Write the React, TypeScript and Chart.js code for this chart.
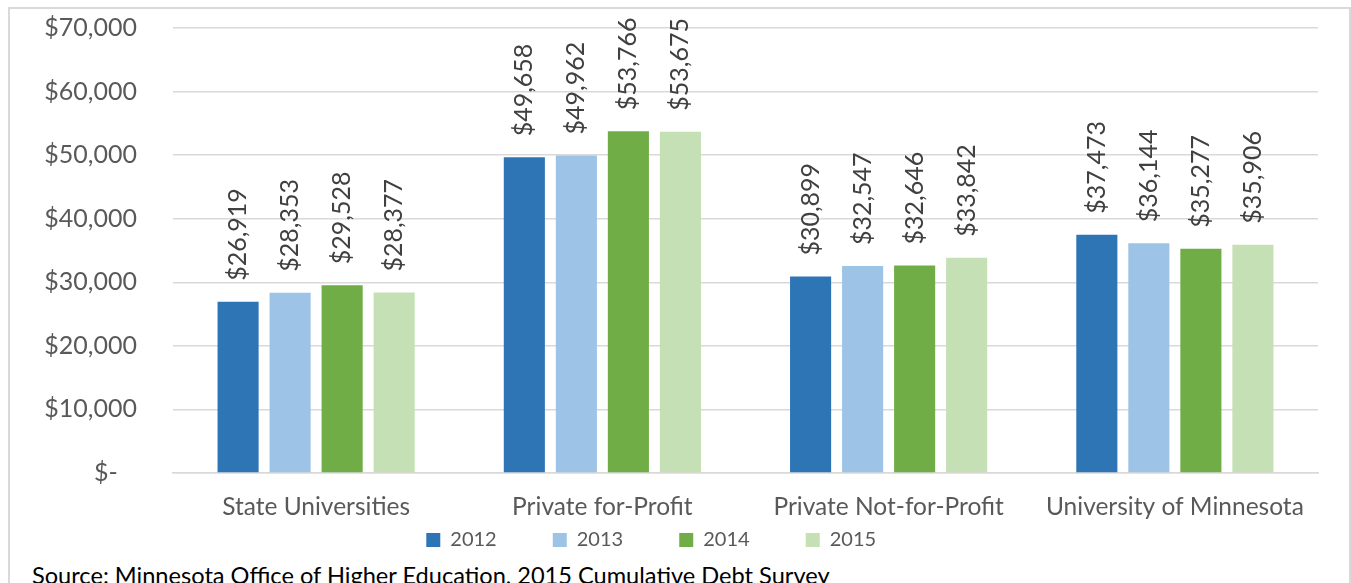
import React, { useEffect, useRef } from "react";
import { Chart, registerables } from "chart.js";

Chart.register(...registerables);

const categories = ["State Universities", "Private for-Profit", "Private Not-for-Profit", "University of Minnesota"];
const years = ["2012", "2013", "2014", "2015"];
const values2012 = [26919, 49658, 30899, 37473];
const values2013 = [28353, 49962, 32547, 36144];
const values2014 = [29528, 53766, 32646, 35277];
const values2015 = [28377, 53675, 33842, 35906];
const colors = ["#2E75B6", "#9DC3E6", "#70AD47", "#C5E0B4"];
const yTicks = [0, 10000, 20000, 30000, 40000, 50000, 60000, 70000];
const sourceText = "Source: Minnesota Office of Higher Education, 2015 Cumulative Debt Survey";

const FONT = "Lato, 'Open Sans', sans-serif";

const money = (v: number) => (v === 0 ? "$-   " : "$" + v.toLocaleString("en-US"));

const dataLabelPlugin = {
  id: "rotLabels",
  afterDatasetsDraw(chart: any) {
    const ctx = chart.ctx;
    ctx.save();
    ctx.font = `25px ${FONT}`;
    ctx.fillStyle = "#404040";
    ctx.textAlign = "left";
    ctx.textBaseline = "middle";
    chart.data.datasets.forEach((ds: any, i: number) => {
      const meta = chart.getDatasetMeta(i);
      meta.data.forEach((bar: any, j: number) => {
        const v = ds.data[j];
        ctx.save();
        ctx.translate(bar.x, bar.y - 21);
        ctx.rotate(-Math.PI / 2);
        ctx.fillText(money(v), 0, 0);
        ctx.restore();
      });
    });
    ctx.restore();
  },
};

export default function App() {
  const ref = useRef<HTMLCanvasElement>(null);
  useEffect(() => {
    if (!ref.current) return;
    const series = [values2012, values2013, values2014, values2015];
    const chart = new Chart(ref.current, {
      type: "bar",
      data: {
        labels: categories,
        datasets: years.map((y, i) => ({
          label: y,
          data: series[i],
          backgroundColor: colors[i],
          borderWidth: 0,
          categoryPercentage: 0.727,
          barPercentage: 0.79,
        })),
      },
      options: {
        responsive: false,
        animation: false,
        layout: { padding: { top: 19, left: 0, right: 31, bottom: 0 } },
        plugins: {
          tooltip: { enabled: false },
          legend: {
            position: "bottom",
            labels: {
              boxWidth: 14,
              boxHeight: 14,
              padding: 10,
              color: "#595959",
              font: { family: FONT, size: 20 },
              generateLabels(chart: any) {
                const items = Chart.defaults.plugins.legend.labels.generateLabels(chart);
                return items.map((it: any, i: number) => ({
                  ...it,
                  text: it.text + " ".repeat(i < items.length - 1 ? 9 : 5),
                }));
              },
            },
          },
        },
        scales: {
          x: {
            grid: { display: false, drawTicks: false },
            border: { color: "#d9d9d9", width: 1.5 },
            ticks: { color: "#595959", font: { family: FONT, size: 24.5 }, padding: 19 },
            afterFit(scale: any) {
              scale.height = 47;
            },
          },
          y: {
            min: 0,
            max: 70000,
            afterBuildTicks(scale: any) {
              scale.ticks = yTicks.map((v) => ({ value: v }));
            },
            grid: { color: "#d9d9d9", lineWidth: 1.5, drawTicks: true, tickLength: 36, tickColor: "rgba(0,0,0,0)" },
            border: { display: false },
            ticks: {
              color: "#595959",
              font: { family: FONT, size: 25 },
              padding: 0,
              callback: (v: any) => money(Number(v)),
            },
            afterFit(scale: any) {
              scale.width = 163;
            },
          },
        },
      },
      plugins: [dataLabelPlugin],
    });
    return () => chart.destroy();
  }, []);

  return (
    <div
      style={{
        position: "fixed",
        left: 8,
        top: 7,
        width: 1339,
        height: 574,
        border: "2px solid #d9d9d9",
        borderBottom: "none",
        overflow: "hidden",
        background: "#fff",
      }}
    >
      <canvas ref={ref} width={1339} height={551} style={{ display: "block" }} />
      <div
        style={{
          position: "absolute",
          left: 22,
          top: 552,
          fontFamily: FONT,
          fontSize: 23.6,
          color: "#000",
          whiteSpace: "nowrap",
        }}
      >
        {sourceText}
      </div>
    </div>
  );
}
